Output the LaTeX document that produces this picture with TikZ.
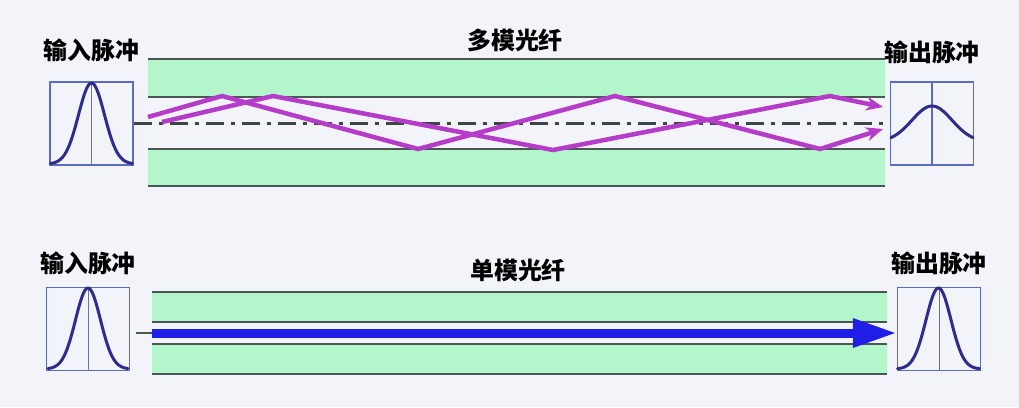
\documentclass[tikz,border=0pt]{standalone}
\usepackage{fontspec}
\usepackage{xcolor}
\usepackage{tikz}
\usetikzlibrary{arrows.meta, positioning}
\newfontfamily\cjk{Noto Sans CJK SC}
\definecolor{bgcol}{HTML}{F2F4F9}
\definecolor{cladcol}{HTML}{B4F6CC}
\definecolor{wallcol}{HTML}{4A5656}
\definecolor{boxcol}{HTML}{5B6BC0}
\definecolor{pulsecol}{HTML}{2E2C8C}
\definecolor{raycol}{HTML}{B43CC8}
\definecolor{beamcol}{HTML}{1E1EE6}

\begin{document}
\begin{tikzpicture}[x=1bp, y=-1bp, >=Stealth,
  pulsebox/.style={draw=boxcol, line width=1.2bp, fill=bgcol, minimum size=83bp, inner sep=0pt},
  caption/.style={font=\cjk\bfseries\fontsize{24}{26}\selectfont, inner sep=3bp},
  wall/.style={draw=wallcol, line width=2bp},
  axisline/.style={draw=wallcol!80!black, line width=3bp, dash pattern=on 18bp off 7bp on 4bp off 7bp},
  ray/.style={draw=raycol, line width=4.5bp, -{Stealth[length=17bp, width=14bp]}},
  pulse/.style={draw=pulsecol, line width=3bp, line cap=round}]
  \useasboundingbox (0,0) rectangle (1019,407);
  \fill[bgcol] (0,0) rectangle (1019,407);

  % Fibers
  \fill[cladcol] (148,59) rectangle (885,97);
  \fill[cladcol] (148,149) rectangle (885,186);
  \foreach \y in {59,97,149,186}
    \draw[wall] (148,\y) -- (885,\y);
  \fill[cladcol] (152,292) rectangle (887,322);
  \fill[cladcol] (152,344) rectangle (887,374);
  \foreach \y in {292,322,344,374}
    \draw[wall] (152,\y) -- (887,\y);

  % Nodes
  \node[pulsebox] (inA) at (91.5,123.5) {};
  \node[pulsebox] (outA) at (932,123.5) {};
  \node[pulsebox] (inB) at (88,329) {};
  \node[pulsebox] (outB) at (939,329) {};
  \node[caption, above=16bp of inA] (inAT) {输入脉冲};
  \node[caption, above=14bp of outA] (outAT) {输出脉冲};
  \node[caption, above=9bp of inB] (inBT) {输入脉冲};
  \node[caption, above=9bp of outB] (outBT) {输出脉冲};
  \node[caption] (mmT) at (515,40) {多模光纤};
  \node[caption] (smT) at (518,270) {单模光纤};

  % Pulses
  \draw[boxcol!60!gray, line width=0.8bp] (inA.north) -- (inA.south);
  \draw[boxcol, line width=1.2bp] (outA.north) -- (outA.south);
  \draw[boxcol!60!gray, line width=0.8bp] (inB.north) -- (inB.south);
  \draw[boxcol, line width=1bp] (outB.north) -- (outB.south);
  \draw[pulse] plot[domain=-41:41, samples=70] ({91.5+\x},{164-81*exp(-(\x/13)^2/2)});
  \draw[pulse] plot[domain=-41:41, samples=70] ({932+\x},{142-36*exp(-(\x/20)^2/2)});
  \draw[pulse] plot[domain=-40:40, samples=70] ({88+\x},{369-81*exp(-(\x/12.5)^2/2)});
  \draw[pulse] plot[domain=-41:41, samples=70] ({938.5+\x},{369-81*exp(-(\x/12.5)^2/2)});

  % Axis and rays
  \coordinate (axEnd) at (885,123);
  \draw[axisline] (inA.east |- axEnd) -- (axEnd);
  \draw[ray] (148,117) -- (222,96) -- (418,149) -- (615,96) -- (820,149) -- (883,129);
  \draw[ray] (162,122) -- (273,96) -- (553,150) -- (830,96) -- (883,107);

  % Single mode beam
  \coordinate (beamStart) at (152,333);
  \draw[wall] (136,333) -- (beamStart);
  \draw[beamcol, line width=9bp, -{Triangle[length=44bp, width=27bp]}] (beamStart) -- (outB.west |- beamStart);
\end{tikzpicture}
\end{document}
